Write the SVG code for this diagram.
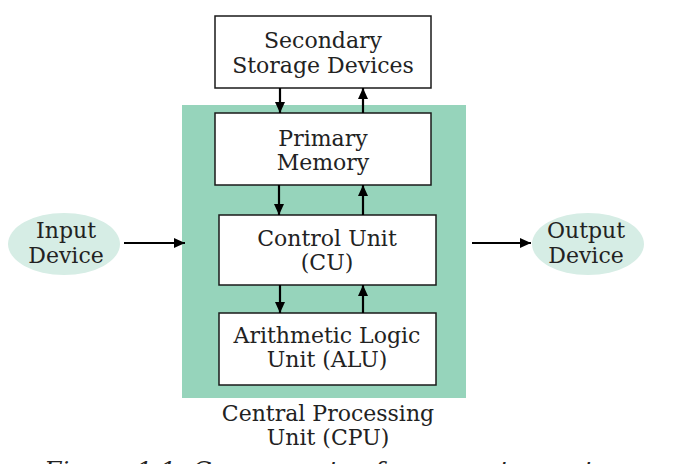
<svg xmlns="http://www.w3.org/2000/svg" width="673" height="464" viewBox="0 0 673 464">
<style>
.box{fill:#ffffff;stroke:#1a1a1a;stroke-width:1.5}
.ell{fill:#d6ede5;stroke:none}
.t{font-family:"DejaVu Serif","Liberation Serif",serif;font-size:22px;fill:#222;text-anchor:middle}
.cap{font-family:"DejaVu Serif","Liberation Serif",serif;font-size:25px;font-style:italic;fill:#222}
.ln{stroke:#000;stroke-width:2.2;fill:none;marker-end:url(#ah)}
</style>
<defs>
<marker id="ah" markerWidth="12" markerHeight="12" refX="11" refY="5" orient="auto" markerUnits="userSpaceOnUse">
<path d="M0,0 L11,5 L0,10 Z" fill="#000"/>
</marker>
</defs>
<rect width="673" height="464" fill="#ffffff"/>
<g id="cpu">
<rect x="182" y="105" width="284" height="293" fill="#96d4bb"/>
<text class="t" x="328" y="421">Central Processing</text>
<text class="t" x="328" y="445">Unit (CPU)</text>
</g>
<g id="secondary">
<rect class="box" x="215" y="16" width="216" height="72"/>
<text class="t" x="323" y="48">Secondary</text>
<text class="t" x="323" y="73">Storage Devices</text>
</g>
<g id="primary">
<rect class="box" x="215" y="113" width="216" height="72"/>
<text class="t" x="323" y="146">Primary</text>
<text class="t" x="323" y="170">Memory</text>
</g>
<g id="cu">
<rect class="box" x="219" y="215" width="217" height="70"/>
<text class="t" x="327" y="246">Control Unit</text>
<text class="t" x="327" y="270">(CU)</text>
</g>
<g id="alu">
<rect class="box" x="219" y="313" width="217" height="72"/>
<text class="t" x="327" y="343">Arithmetic Logic</text>
<text class="t" x="327" y="367">Unit (ALU)</text>
</g>
<g id="input">
<ellipse class="ell" cx="64" cy="244" rx="56" ry="31"/>
<text class="t" x="66" y="238">Input</text>
<text class="t" x="66" y="263">Device</text>
</g>
<g id="output">
<ellipse class="ell" cx="588" cy="244" rx="56" ry="31"/>
<text class="t" x="586" y="238">Output</text>
<text class="t" x="586" y="263">Device</text>
</g>
<g id="connectors">
<line class="ln" x1="280" y1="88" x2="280" y2="113"/>
<line class="ln" x1="363" y1="113" x2="363" y2="88"/>
<line class="ln" x1="279" y1="185" x2="279" y2="215"/>
<line class="ln" x1="363" y1="215" x2="363" y2="185"/>
<line class="ln" x1="280" y1="285" x2="280" y2="313"/>
<line class="ln" x1="363" y1="313" x2="363" y2="285"/>
<line class="ln" x1="124" y1="243" x2="185" y2="243"/>
<line class="ln" x1="472" y1="243" x2="531" y2="243"/>
</g>
<text class="cap" x="44" y="479">Figure 1.1: Components of a computer system</text>
</svg>
